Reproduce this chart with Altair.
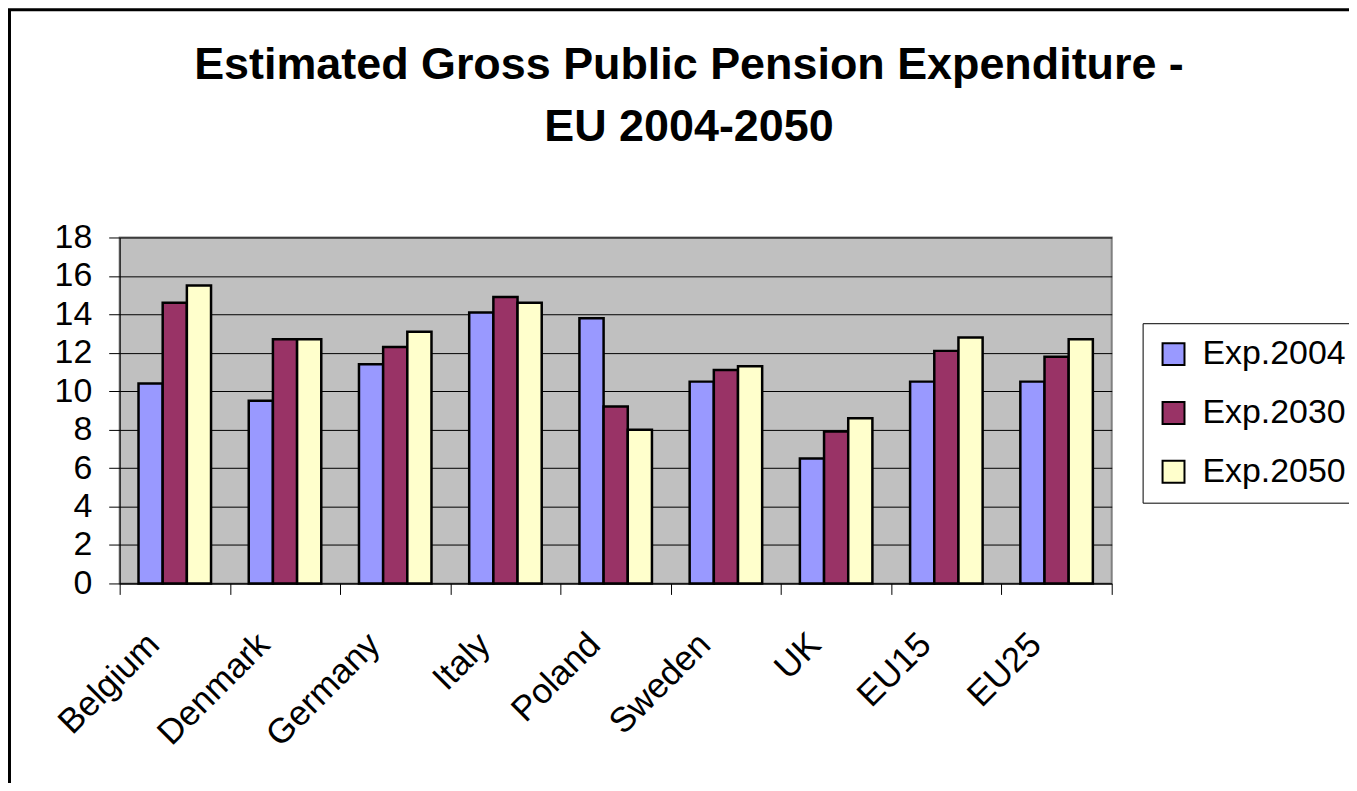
import altair as alt
import pandas as pd

countries = ["Belgium", "Denmark", "Germany", "Italy", "Poland", "Sweden", "UK", "EU15", "EU25"]
series = ["Exp.2004", "Exp.2030", "Exp.2050"]
exp_2004 = [10.4, 9.5, 11.4, 14.1, 13.8, 10.5, 6.5, 10.5, 10.5]
exp_2030 = [14.6, 12.7, 12.3, 14.9, 9.2, 11.1, 7.9, 12.1, 11.8]
exp_2050 = [15.5, 12.7, 13.1, 14.6, 8.0, 11.3, 8.6, 12.8, 12.7]
colors = ["#9999FF", "#993366", "#FFFFCC"]
y_ticks = [0, 2, 4, 6, 8, 10, 12, 14, 16, 18]
title_lines = ["Estimated Gross Public Pension  Expenditure -", "EU 2004-2050"]

rows = []
for s, vals in zip(series, [exp_2004, exp_2030, exp_2050]):
    for c, v in zip(countries, vals):
        rows.append({"country": c, "series": s, "value": v})
df = pd.DataFrame(rows)

FONT = "Liberation Sans"
W, H = 995, 347

bars = alt.Chart(df).mark_bar(stroke="black", strokeWidth=2.5).encode(
    x=alt.X(
        "country:N",
        sort=countries,
        scale=alt.Scale(paddingInner=0, paddingOuter=0),
        axis=alt.Axis(
            title=None,
            labelAngle=-45,
            labelAlign="right",
            labelBaseline="alphabetic",
            labelFont=FONT,
            labelFontSize=35,
            labelColor="black",
            labelOffset=-14,
            labelPadding=52,
            labelOverlap=False,
            tickBand="extent",
            tickSize=11,
            tickColor="black",
            domainColor="black",
            grid=False,
        ),
    ),
    xOffset=alt.XOffset(
        "series:N", sort=series, scale=alt.Scale(paddingInner=0, paddingOuter=0.78)
    ),
    y=alt.Y(
        "value:Q",
        scale=alt.Scale(domain=[0, 18], nice=False),
        axis=alt.Axis(
            title=None,
            values=y_ticks,
            labelFont=FONT,
            labelFontSize=34,
            labelColor="black",
            labelPadding=17,
            labelOverlap=False,
            tickSize=11,
            tickColor="black",
            domainColor="black",
            grid=True,
            gridColor="black",
            gridWidth=1,
        ),
    ),
    color=alt.Color(
        "series:N",
        sort=series,
        scale=alt.Scale(domain=series, range=colors),
        legend=alt.Legend(
            title=None,
            orient="none",
            legendX=1026,
            legendY=86,
            symbolType="square",
            symbolSize=484,
            symbolStrokeColor="black",
            symbolStrokeWidth=2,
            symbolOpacity=1,
            labelFont=FONT,
            labelFontSize=34,
            labelColor="black",
            labelOffset=12,
            strokeColor="black",
            fillColor="white",
            padding=14,
            rowPadding=25,
        ),
    ),
)

frame = alt.Chart(pd.DataFrame({"k": [0]})).mark_rect(
    fill="white", fillOpacity=0, stroke="black", strokeWidth=3
).encode(
    x=alt.value(-110.5),
    x2=alt.value(W + 600),
    y=alt.value(-228.5),
    y2=alt.value(H + 600),
)

title_df = pd.DataFrame({"line": title_lines, "row": [0, 1]})
title = alt.Chart(title_df).mark_text(
    font=FONT, fontSize=45, fontWeight="bold", color="black",
    align="center", baseline="alphabetic",
).encode(
    text="line:N",
    x=alt.value(571),
    y=alt.YValue if False else alt.value(0),
)

title1 = alt.Chart(title_df.iloc[[0]]).mark_text(
    font=FONT, fontSize=45, fontWeight="bold", color="black",
    align="center", baseline="alphabetic",
).encode(text="line:N", x=alt.value(571), y=alt.value(-158.5))

title2 = alt.Chart(title_df.iloc[[1]]).mark_text(
    font=FONT, fontSize=45, fontWeight="bold", color="black",
    align="center", baseline="alphabetic",
).encode(text="line:N", x=alt.value(571), y=alt.value(-97))

chart = alt.layer(frame, title1, title2, bars).properties(
    width=W,
    height=H,
    padding={"left": 112, "top": 229, "right": 238, "bottom": 199},
    autosize=alt.AutoSizeParams(type="none"),
).configure(background="white").configure_view(
    fill="#C0C0C0", stroke="#808080", strokeWidth=2
)

chart.save("out.html", embed_options={"renderer": "svg", "actions": False})
